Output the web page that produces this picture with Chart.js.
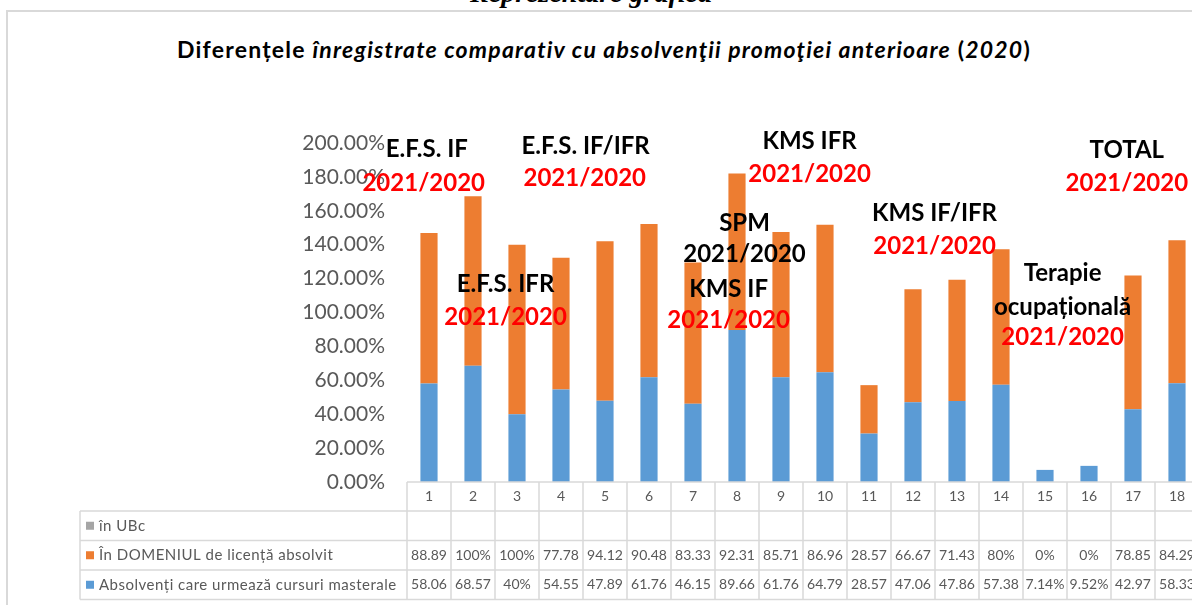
<!DOCTYPE html>
<html lang="ro">
<head>
<meta charset="utf-8">
<title>Diferențele înregistrate comparativ cu absolvenţii promoţiei anterioare</title>
<script src="https://cdn.jsdelivr.net/npm/chart.js@4.4.1/dist/chart.umd.min.js"></script>
<style>
    body { margin: 0; background: #fff; overflow: hidden; }
    #pagina { position: relative; width: 1192px; height: 605px; overflow: hidden; }
    #titlu-sus { position: absolute; left: 0; top: -21px; width: 1182px; text-align: center; font: italic bold 28px "Liberation Serif", serif; line-height: 1; color: #000; }
    #chenar { position: absolute; left: 6px; top: 10px; width: 1300px; height: 700px; border: 2px solid #d9d9d9; }
    #titlu { position: absolute; left: 0; top: 35px; width: 1208px; text-align: center; font: bold 23px Lato, sans-serif; letter-spacing: 1.2px; color: #000; }
    #grafic { position: absolute; left: 0; top: 0; }
</style>
</head>
<body>
<div id="pagina">
    <div id="titlu-sus">Reprezentare grafică</div>
    <div id="chenar"></div>
    <div id="titlu">Diferențele <i>înregistrate comparativ cu absolvenţii promoţiei anterioare</i> (<i>2020</i>)</div>
    <canvas id="grafic" width="1200" height="605"></canvas>
</div>
<script>
// Date - categorii (numerele coloanelor din tabel)
const categorii = ["1", "2", "3", "4", "5", "6", "7", "8", "9", "10", "11", "12", "13", "14", "15", "16", "17", "18"];

// Serii (valori in %)
const absolventiMaster = [58.06, 68.57, 40, 54.55, 47.89, 61.76, 46.15, 89.66, 61.76, 64.79, 28.57, 47.06, 47.86, 57.38, 7.14, 9.52, 42.97, 58.33];
const inDomeniu = [88.89, 100, 100, 77.78, 94.12, 90.48, 83.33, 92.31, 85.71, 86.96, 28.57, 66.67, 71.43, 80, 0, 0, 78.85, 84.29];
const inUBc = [null, null, null, null, null, null, null, null, null, null, null, null, null, null, null, null, null, null];

const numeSerii = ["Absolvenți care urmează cursuri masterale", "În DOMENIUL de licență absolvit", "în UBc"];

// Etichete axa Y
const yMin = 0;
const yMax = 200;
const yPas = 20;

// Etichete de pe grafic: [text, culoare, pozitie coloana, valoare]
const etichete = [
    ["E.F.S. IF", "#000", -0.05, 196.5],
    ["2021/2020", "#ff0000", -0.12, 176.4],
    ["E.F.S. IFR", "#000", 1.74, 116.8],
    ["2021/2020", "#ff0000", 1.74, 97.3],
    ["E.F.S. IF/IFR", "#000", 3.56, 198.2],
    ["2021/2020", "#ff0000", 3.54, 179.4],
    ["KMS IF", "#000", 6.81, 113.9],
    ["2021/2020", "#ff0000", 6.81, 95.6],
    ["SPM", "#000", 7.17, 152.8],
    ["2021/2020", "#000", 7.17, 134.5],
    ["KMS IFR", "#000", 8.65, 201.2],
    ["2021/2020", "#ff0000", 8.65, 181.7],
    ["KMS IF/IFR", "#000", 11.49, 158.7],
    ["2021/2020", "#ff0000", 11.49, 139.2],
    ["Terapie", "#000", 14.4, 123.3],
    ["ocupațională", "#000", 14.4, 103.2],
    ["2021/2020", "#ff0000", 14.4, 85.5],
    ["TOTAL", "#000", 15.86, 195.9],
    ["2021/2020", "#ff0000", 15.86, 176.4]
];

const gri = "#595959";
const linieTabel = "#d9d9d9";

// Plugin - etichetele scrise peste bare
const pluginEtichete = {
    id: "etichete",
    afterDatasetsDraw(chart) {
        const ctx = chart.ctx;
        const sx = chart.scales.x;
        const sy = chart.scales.y;
        ctx.save();
        ctx.font = "bold 24px Lato, sans-serif";
        ctx.textAlign = "center";
        ctx.textBaseline = "middle";
        etichete.forEach(([text, culoare, col, val]) => {
            ctx.fillStyle = culoare;
            ctx.fillText(text, sx.getPixelForValue(col), sy.getPixelForValue(val));
        });
        ctx.restore();
    }
};

// Plugin - tabelul de date de sub grafic
const pluginTabel = {
    id: "tabel",
    afterDraw(chart) {
        const ctx = chart.ctx;
        const sx = chart.scales.x;
        const area = chart.chartArea;
        const lat = (area.right - area.left) / categorii.length;
        const stanga = 80;
        const yCap = area.bottom + 29;
        const hRand = 29.5;
        const randuri = [2, 1, 0];
        const yJos = yCap + randuri.length * hRand;

        ctx.save();
        ctx.strokeStyle = linieTabel;
        ctx.lineWidth = 1.5;
        ctx.beginPath();
        ctx.moveTo(area.left, area.bottom);
        ctx.lineTo(area.right, area.bottom);
        for (let r = 0; r <= randuri.length; r++) {
            ctx.moveTo(stanga, yCap + r * hRand);
            ctx.lineTo(area.right, yCap + r * hRand);
        }
        ctx.moveTo(stanga, yCap);
        ctx.lineTo(stanga, yJos);
        for (let k = 0; k <= categorii.length; k++) {
            ctx.moveTo(area.left + k * lat, area.bottom);
            ctx.lineTo(area.left + k * lat, yJos);
        }
        ctx.stroke();

        ctx.textBaseline = "middle";
        randuri.forEach((d, r) => {
            const ds = chart.data.datasets[d];
            const yc = yCap + r * hRand + hRand / 2;
            ctx.fillStyle = ds.backgroundColor;
            ctx.fillRect(stanga + 6, yc - 4, 8, 8);
            ctx.fillStyle = gri;
            ctx.textAlign = "left";
            ctx.font = "15px Lato, sans-serif";
            ctx.letterSpacing = "0.5px";
            ctx.fillText(ds.label, stanga + 19, yc);
            ctx.letterSpacing = "0px";
            ctx.font = "14px Lato, sans-serif";
            ctx.textAlign = "center";
            ds.data.forEach((v, i) => {
                if (v === null) return;
                let t = (Number.isInteger(v) ? v : v.toFixed(2)) + "%";
                if (ctx.measureText(t).width > lat - 2) t = t.slice(0, -1);
                ctx.fillText(t, sx.getPixelForValue(i), yc);
            });
        });
        ctx.restore();
    }
};

const dadosGrafic = {
    labels: categorii,
    datasets: [{
        label: numeSerii[0],
        data: absolventiMaster,
        backgroundColor: "#5b9bd5"
    },
    {
        label: numeSerii[1],
        data: inDomeniu,
        backgroundColor: "#ed7d31"
    },
    {
        label: numeSerii[2],
        data: inUBc,
        backgroundColor: "#a5a5a5"
    }]
};

const configGrafic = {
    type: "bar",
    data: dadosGrafic,
    options: {
        responsive: false,
        animation: false,
        datasets: {
            bar: { barPercentage: 0.39, categoryPercentage: 1 }
        },
        layout: {
            padding: { top: 143, right: 1, bottom: 0, left: 0 }
        },
        plugins: {
            legend: { display: false },
            tooltip: { enabled: false }
        },
        scales: {
            x: {
                stacked: true,
                grid: { display: false, drawTicks: false },
                border: { display: false },
                ticks: { color: gri, font: { family: "Lato", size: 14 }, padding: 6, maxRotation: 0 },
                afterFit(scale) { scale.height = 123; }
            },
            y: {
                stacked: true,
                min: yMin,
                max: yMax,
                grid: { display: false, drawTicks: false },
                border: { display: false },
                ticks: {
                    stepSize: yPas,
                    color: gri,
                    padding: 22,
                    font: { family: "Lato", size: 21 },
                    callback: v => v.toFixed(2) + "%"
                },
                afterFit(scale) { scale.width = 407; }
            }
        }
    },
    plugins: [pluginEtichete, pluginTabel]
};

let myChartGrafic = new Chart(document.getElementById("grafic"), configGrafic);
</script>
</body>
</html>
